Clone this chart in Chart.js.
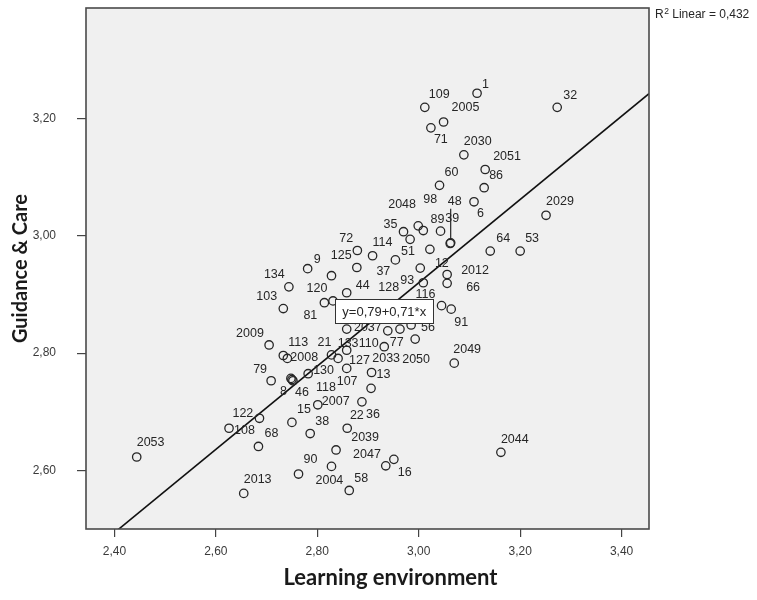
<!DOCTYPE html>
<html lang="en">
<head>
<meta charset="UTF-8">
<title>Guidance &amp; Care vs Learning environment</title>
<script src="https://cdn.jsdelivr.net/npm/chart.js@4"></script>
<style>
  html, body { margin: 0; padding: 0; background: #fff; }
  #wrap { width: 757px; height: 600px; }
</style>
</head>
<body>
<div id="wrap"><canvas id="scatter" width="757" height="600"></canvas></div>
<script>
// case labels and values
const caseIds = ['1','109','32','2005','71','2030','2051','86','60','6',
  '2029','89','39','48','35','2048','98','51','12','128',
  '114','72','37','125','2012','66','93','64','53','9',
  '120','134','44','103','81','','116','91','110','77',
  '2037','56','2050','2009','113','2008','21','127','133','107',
  '2033','2049','13','36','79','8','46','118','130','22',
  '2007','122','108','15','2039','38','68','2047','2053','90',
  '2004','58','2013','','16','2044'];
const learningEnv = [3.115,3.012,3.273,3.049,3.024,3.089,3.131,3.129,3.041,3.109,
  3.251,3.043,3.062,3.063,2.970,2.999,3.009,2.983,3.022,3.003,
  2.909,2.879,2.954,2.878,3.056,3.056,3.009,3.141,3.200,2.781,
  2.828,2.744,2.858,2.733,2.814,2.831,3.045,3.064,2.858,2.939,
  2.963,2.985,2.993,2.705,2.733,2.741,2.828,2.841,2.858,2.858,
  2.932,3.070,2.907,2.906,2.709,2.748,2.750,2.752,2.782,2.888,
  2.801,2.686,2.626,2.750,2.859,2.786,2.684,2.837,2.444,2.763,
  2.828,2.863,2.655,2.935,2.951,3.162];
const guidanceCare = [3.243,3.219,3.219,3.194,3.184,3.138,3.113,3.082,3.086,3.058,
  3.035,3.008,2.987,2.988,3.007,3.017,3.009,2.994,2.977,2.945,
  2.966,2.975,2.959,2.946,2.934,2.919,2.920,2.974,2.974,2.944,
  2.932,2.913,2.903,2.876,2.886,2.889,2.881,2.875,2.841,2.838,
  2.841,2.848,2.824,2.814,2.796,2.791,2.797,2.791,2.805,2.774,
  2.811,2.783,2.767,2.740,2.753,2.757,2.755,2.753,2.765,2.717,
  2.712,2.689,2.672,2.682,2.672,2.663,2.641,2.635,2.623,2.594,
  2.607,2.566,2.561,2.608,2.619,2.631];

const xTicks = [2.4, 2.6, 2.8, 3.0, 3.2, 3.4];
const yTicks = [2.6, 2.8, 3.0, 3.2];
const xRange = [2.344, 3.454];
const yRange = [2.5003, 3.3883];
const xTitle = 'Learning environment';
const yTitle = 'Guidance & Care';

// fit line shown in the chart
const fitIntercept = 0.79;
const fitSlope = 0.71;
const rSquared = '0,432';
const eqAtX = 2.932;   // where the equation box sits on the line

// label placement next to each point: [dx, dy] px from the point centre (text left / middle)
const labelNudge = {
  '1':[5,-9], '109':[4,-13], '32':[6,-12], '2005':[8,-14], '71':[3,12],
  '2030':[0,-13], '2051':[8,-13], '86':[5,-12], '60':[5,-13], '6':[3,12],
  '2029':[0,-14], '89':[-10,-12], '39':[-5,-25], '48':[-3,-41], '35':[-20,-7],
  '2048':[-30,-21], '98':[0,-31], '51':[-9,12], '12':[5,14], '128':[-42,19],
  '114':[0,-13], '72':[-18,-12], '37':[-19,12], '125':[-26,-12], '2012':[14,-4],
  '66':[19,4], '93':[-23,-2], '64':[6,-13], '53':[5,-13], '9':[6,-9],
  '120':[-25,13], '134':[-25,-12], '44':[9,-7], '103':[-27,-12], '81':[-21,13],
  '116':[-26,-11], '91':[3,13], '110':[12,14], '77':[2,12], '2037':[-46,-2],
  '56':[10,3], '2050':[-13,20], '2009':[-33,-11], '113':[5,-13], '2008':[3,-1],
  '21':[-14,-12], '127':[11,2], '133':[-9,-7], '107':[-10,13], '2033':[-12,12],
  '2049':[-1,-14], '13':[5,2], '36':[-5,26], '79':[-18,-11], '8':[-11,13],
  '46':[3,13], '118':[23,7], '130':[5,-3], '22':[-12,14], '2007':[4,-3],
  '122':[-27,-5], '108':[5,2], '15':[5,-13], '2039':[4,9], '38':[5,-12],
  '68':[6,-13], '2047':[17,5], '2053':[0,-14], '90':[5,-14], '2004':[-16,14],
  '58':[5,-12], '2013':[0,-14], '16':[4,13], '2044':[0,-13]
};
const leaderLines = ['48'];

const fmt = v => v.toFixed(2).replace('.', ',');
const INK = '#262626';

const spssDecor = {
  id: 'spssDecor',
  beforeDraw(chart) {
    const { ctx, chartArea: a } = chart;
    ctx.save();
    ctx.fillStyle = '#f0f0f0';
    ctx.fillRect(a.left, a.top, a.right - a.left, a.bottom - a.top);
    ctx.restore();
  },
  afterDatasetsDraw(chart) {
    const { ctx, chartArea: a, scales } = chart;
    const pts = chart.getDatasetMeta(0).data;
    ctx.save();
    ctx.font = "12.5px 'Liberation Sans', Arial, sans-serif";
    ctx.fillStyle = INK;
    ctx.strokeStyle = INK;
    ctx.textAlign = 'left';
    ctx.textBaseline = 'middle';
    caseIds.forEach((id, i) => {
      if (!id) return;
      const p = pts[i];
      const n = labelNudge[id] || [4, -13];
      ctx.fillText(id, p.x + n[0], p.y + n[1]);
      if (leaderLines.includes(id)) {
        ctx.lineWidth = 1.2;
        ctx.beginPath();
        ctx.moveTo(p.x, p.y - 4.5);
        ctx.lineTo(p.x, p.y + n[1] + 7);
        ctx.stroke();
      }
    });

    // equation box
    const bx = scales.x.getPixelForValue(eqAtX);
    const by = scales.y.getPixelForValue(fitIntercept + fitSlope * eqAtX);
    const w = 98, h = 24;
    ctx.fillStyle = '#fff';
    ctx.fillRect(bx - w / 2, by - h / 2, w, h);
    ctx.lineWidth = 1;
    ctx.strokeStyle = '#333';
    ctx.strokeRect(Math.round(bx - w / 2) + 0.5, Math.round(by - h / 2) + 0.5, w, h);
    ctx.fillStyle = INK;
    ctx.font = "13px 'Liberation Sans', Arial, sans-serif";
    ctx.textAlign = 'center';
    ctx.fillText('y=' + fmt(fitIntercept) + '+' + fmt(fitSlope) + '*x', bx, by + 1);

    // plot frame
    ctx.lineWidth = 1.6;
    ctx.strokeStyle = '#4a4a4a';
    ctx.strokeRect(a.left, a.top, a.right - a.left, a.bottom - a.top);

    // R squared note
    const rx = a.right + 6, ry = a.top + 6;
    ctx.textAlign = 'left';
    ctx.textBaseline = 'alphabetic';
    ctx.fillStyle = INK;
    ctx.font = "12px 'Liberation Sans', Arial, sans-serif";
    ctx.fillText('R', rx, ry + 4);
    const rw = ctx.measureText('R').width;
    ctx.font = "8.5px 'Liberation Sans', Arial, sans-serif";
    ctx.fillText('2', rx + rw + 0.5, ry);
    const tw = ctx.measureText('2').width;
    ctx.font = "12px 'Liberation Sans', Arial, sans-serif";
    ctx.fillText(' Linear = ' + rSquared, rx + rw + tw + 0.5, ry + 4);

    // x axis title (SPSS sets it a little right of the plot centre)
    ctx.font = "bold 22px Lato, 'Open Sans', sans-serif";
    ctx.fillStyle = '#1a1a1a';
    ctx.textAlign = 'center';
    ctx.textBaseline = 'middle';
    ctx.fillText(xTitle, (a.left + a.right) / 2 + 23, a.bottom + 49);
    ctx.restore();
  }
};

const points = learningEnv.map((x, i) => ({ x: x, y: guidanceCare[i] }));
const fitLine = xRange.map(x => ({ x: x, y: fitIntercept + fitSlope * x }));

new Chart(document.getElementById('scatter'), {
  type: 'scatter',
  data: {
    datasets: [{
      data: points,
      pointRadius: 4.2,
      pointHoverRadius: 4.2,
      borderColor: INK,
      borderWidth: 1.3,
      backgroundColor: 'rgba(0,0,0,0)'
    }, {
      type: 'line',
      data: fitLine,
      borderColor: '#111',
      borderWidth: 1.6,
      pointRadius: 0,
      fill: false
    }]
  },
  options: {
    responsive: false,
    animation: false,
    devicePixelRatio: 1,
    layout: { padding: { top: 8, right: 108, left: 0, bottom: 0 } },
    plugins: { legend: { display: false }, tooltip: { enabled: false } },
    scales: {
      x: {
        type: 'linear',
        min: xRange[0],
        max: xRange[1],
        afterBuildTicks: s => { s.ticks = xTicks.map(v => ({ value: v })); },
        afterFit: s => { s.height = 71; s.paddingLeft = 0; s.paddingRight = 0; },
        border: { display: false },
        grid: { drawOnChartArea: false, drawTicks: true, tickLength: 8, color: '#444', lineWidth: 1.2 },
        ticks: { padding: 7, color: '#3a3a3a', font: { size: 12 }, callback: v => fmt(v) },
        title: { display: false, text: xTitle }
      },
      y: {
        type: 'linear',
        min: yRange[0],
        max: yRange[1],
        afterBuildTicks: s => { s.ticks = yTicks.map(v => ({ value: v })); },
        afterFit: s => { s.width = 86; s.paddingTop = 0; s.paddingBottom = 0; },
        border: { display: false },
        grid: { drawOnChartArea: false, drawTicks: true, tickLength: 9, color: '#444', lineWidth: 1.2 },
        ticks: { padding: 21, color: '#3a3a3a', font: { size: 12 }, callback: v => fmt(v) },
        title: {
          display: true, text: yTitle, color: '#1a1a1a',
          font: { family: 'Lato', size: 20, weight: 'bold' }, padding: { top: 9, bottom: 0 }
        }
      }
    }
  },
  plugins: [spssDecor]
});
</script>
</body>
</html>
